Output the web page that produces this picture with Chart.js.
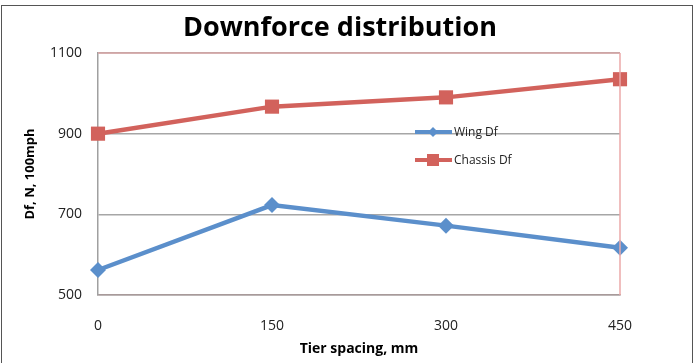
<!DOCTYPE html>
<html>
<head>
<meta charset="utf-8">
<script src="https://cdn.jsdelivr.net/npm/chart.js@4"></script>
<style>
  html, body { margin: 0; padding: 0; background: #fff; }
  #wrap { width: 697px; height: 363px; position: relative; }
</style>
</head>
<body>
<div id="wrap"><canvas id="myChart" width="697" height="363"></canvas></div>
<script>
const tierSpacing = [0, 150, 300, 450];
const wingDf = [562, 723, 672, 617];
const chassisDf = [900, 967, 990, 1035];
const seriesNames = ['Wing Df', 'Chassis Df'];
const yTicks = [500, 700, 900, 1100];
const chartTitle = 'Downforce distribution';

const blue = '#5B8FCB';
const red = '#D2625C';
const font = "'Open Sans', 'Liberation Sans', sans-serif";

// outer frame, title, plot border and the in-plot legend
const framePlugin = {
  id: 'frame',
  beforeDraw(chart) {
    const c = chart.ctx;
    c.save();
    c.fillStyle = '#fff';
    c.fillRect(0, 0, chart.width, chart.height);
    c.strokeStyle = '#555';
    c.lineWidth = 1;
    c.strokeRect(1.5, 5.5, 691, 400);
    c.fillStyle = '#000';
    c.font = 'bold 27px ' + font;
    c.textAlign = 'center';
    c.textBaseline = 'middle';
    c.fillText(chartTitle, 340, 28);
    c.restore();
  },
  afterDatasetsDraw(chart) {
    const a = chart.chartArea;
    const c = chart.ctx;
    c.save();
    c.lineWidth = 1.5;
    c.strokeStyle = '#D9A5A5';
    c.beginPath();
    c.moveTo(a.left, a.top);
    c.lineTo(a.right, a.top);
    c.stroke();
    c.strokeStyle = '#EBA8A8';
    c.beginPath();
    c.moveTo(a.right, a.top);
    c.lineTo(a.right, a.bottom);
    c.stroke();

    // legend
    const items = [
      { label: seriesNames[0], color: blue, style: 'rectRot', y: 132 },
      { label: seriesNames[1], color: red, style: 'rect', y: 160 }
    ];
    items.forEach(it => {
      c.strokeStyle = it.color;
      c.fillStyle = it.color;
      c.lineWidth = 4;
      c.beginPath();
      c.moveTo(415, it.y);
      c.lineTo(452, it.y);
      c.stroke();
      if (it.style === 'rect') {
        c.fillRect(427, it.y - 6, 12, 12);
      } else {
        c.beginPath();
        c.moveTo(433, it.y - 5);
        c.lineTo(438, it.y);
        c.lineTo(433, it.y + 5);
        c.lineTo(428, it.y);
        c.closePath();
        c.fill();
      }
      c.fillStyle = '#222';
      c.font = '12px ' + font;
      c.textAlign = 'left';
      c.textBaseline = 'middle';
      c.fillText(it.label, 454, it.y + 1);
    });
    c.restore();
  }
};

const ctx = document.getElementById('myChart').getContext('2d');

const chart = new Chart(ctx, {
  type: 'line',
  data: {
    datasets: [{
      label: seriesNames[0],
      data: tierSpacing.map((x, i) => ({ x: x, y: wingDf[i] })),
      borderColor: blue,
      backgroundColor: blue,
      borderWidth: 4.5,
      pointStyle: 'rectRot',
      pointRadius: 8,
      pointBorderWidth: 0,
      tension: 0,
      clip: false
    }, {
      label: seriesNames[1],
      data: tierSpacing.map((x, i) => ({ x: x, y: chassisDf[i] })),
      borderColor: red,
      backgroundColor: red,
      borderWidth: 4.5,
      pointStyle: 'rect',
      pointRadius: 10,
      pointBorderWidth: 0,
      tension: 0,
      clip: false
    }]
  },
  options: {
    responsive: false,
    animation: false,
    layout: { padding: { left: 22, right: 77, top: 53, bottom: 0 } },
    plugins: {
      legend: { display: false },
      tooltip: { enabled: false },
      title: { display: false }
    },
    scales: {
      x: {
        type: 'linear',
        min: 0,
        max: 450,
        afterBuildTicks: s => { s.ticks = tierSpacing.map(v => ({ value: v })); },
        afterFit: s => { s.height = 68; },
        grid: { display: false },
        border: { color: '#A89A9A', width: 1.5 },
        ticks: { color: '#222', font: { family: font, size: 14 }, padding: 15, callback: v => String(v) },
        title: {
          display: true,
          text: 'Tier spacing, mm',
          color: '#000',
          font: { family: font, size: 14, weight: 'bold' },
          padding: { top: 4, bottom: 6 }
        }
      },
      y: {
        min: 500,
        max: 1100,
        afterBuildTicks: s => { s.ticks = yTicks.map(v => ({ value: v })); },
        afterFit: s => { s.width = 76; },
        grid: { color: '#A6A6A6', lineWidth: 1.5, drawTicks: false },
        border: { color: '#A0A0A0', width: 1.5 },
        ticks: { color: '#222', font: { family: font, size: 14 }, padding: 16, callback: v => String(v) },
        title: {
          display: true,
          text: 'Df, N, 100mph',
          color: '#000',
          font: { family: font, size: 13, weight: 'bold' },
          padding: { top: 0, bottom: 10 }
        }
      }
    }
  },
  plugins: [framePlugin]
});
</script>
</body>
</html>
